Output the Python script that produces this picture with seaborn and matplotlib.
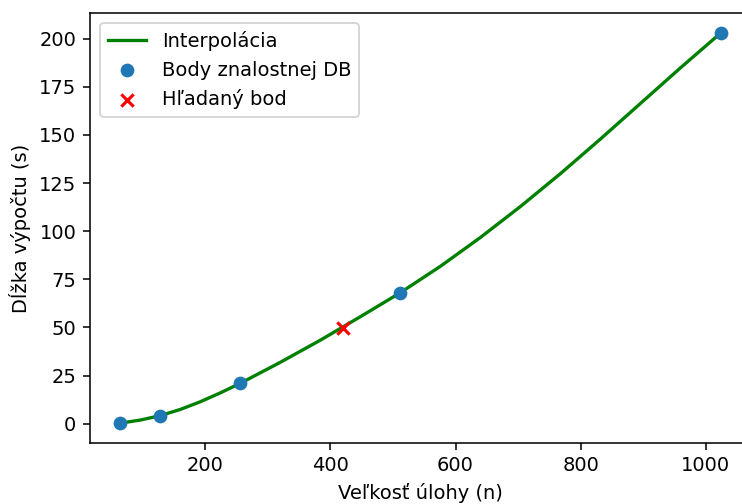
import numpy as np
import pandas as pd
import matplotlib
matplotlib.use("Agg")
import matplotlib.pyplot as plt
import seaborn as sns

# known points of the database
db_n = [64, 128, 256, 512, 1024]
db_time = [0.3, 4.2, 21.0, 68.0, 203.0]

# searched point
query_n = [420]
query_time = [49.5]

# interpolation curve
curve_n = [64, 96, 128, 160, 192, 224, 256, 320, 384, 448, 512,
           576, 640, 704, 768, 832, 896, 960, 1024]
curve_time = [0.3, 1.9, 4.2, 7.4, 11.4, 16.0, 21.0, 31.9, 43.4, 55.6, 68.1,
              81.8, 96.8, 112.9, 130.0, 148.0, 166.5, 185.0, 203.0]

curve_df = pd.DataFrame({"n": curve_n, "t": curve_time})
db_df = pd.DataFrame({"n": db_n, "t": db_time})
query_df = pd.DataFrame({"n": query_n, "t": query_time})

plt.rcParams["font.size"] = 10
fig = plt.figure(figsize=(742 / 140, 504 / 140), dpi=140)
ax = fig.add_axes([90 / 742, 61.3 / 504, 661 / 742, 429.4 / 504])

sns.lineplot(data=curve_df, x="n", y="t", color="green", lw=1.7,
             label="Interpolácia", ax=ax)
sns.scatterplot(data=db_df, x="n", y="t", color="#1f77b4", s=50,
                linewidth=0, label="Body znalostnej DB", ax=ax, zorder=2)
sns.scatterplot(data=query_df, x="n", y="t", color="red", marker="x", s=40,
                linewidth=1.6, label="Hľadaný bod", ax=ax, zorder=3)

ax.set_xlabel("Veľkosť úlohy (n)")
ax.set_ylabel("Dĺžka výpočtu (s)")
ax.set_xticks([200, 400, 600, 800, 1000])
ax.set_yticks([0, 25, 50, 75, 100, 125, 150, 175, 200])
ax.legend(loc="upper left")

fig.savefig("out.png", dpi=140)
